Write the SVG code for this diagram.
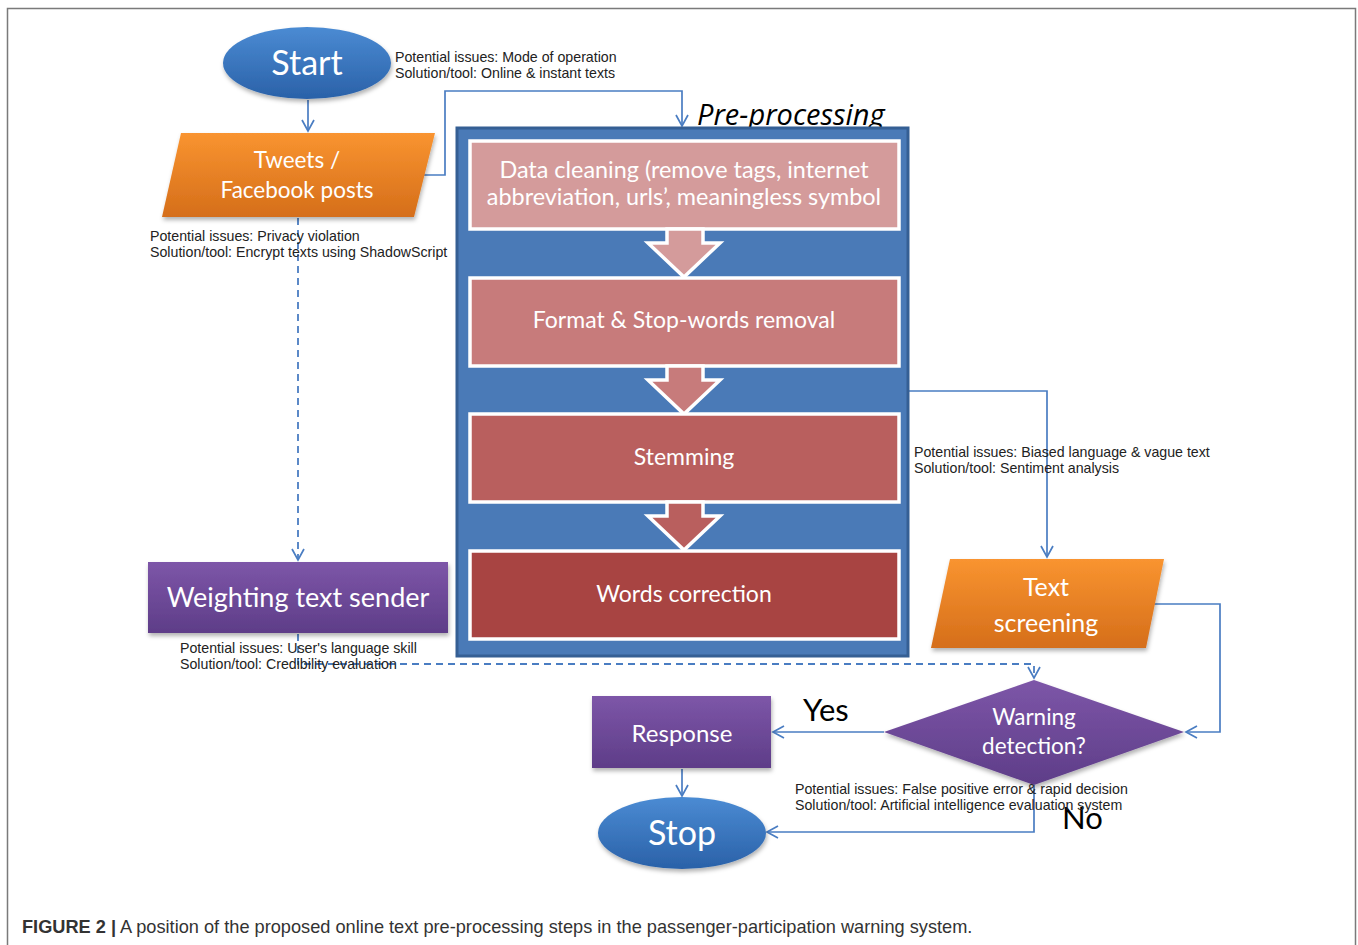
<svg xmlns="http://www.w3.org/2000/svg" width="1358" height="945" viewBox="0 0 1358 945">
<style>
.lbl{font-family:Lato,"Open Sans","DejaVu Sans",sans-serif;fill:#fff;text-anchor:middle}
.note{font-family:"Liberation Sans",Arial,sans-serif;font-size:14.2px;fill:#222}
.big{font-family:Lato,"Open Sans",sans-serif;font-size:31px;fill:#000}
.conn{fill:none;stroke:#4a7dc2;stroke-width:1.7}
.dash{fill:none;stroke:#4a7dc2;stroke-width:1.8;stroke-dasharray:7,5}
.inner{stroke:#fff;stroke-width:3.5}
</style>
<defs>
<marker id="arr" markerWidth="14" markerHeight="14" refX="12" refY="7" orient="auto" markerUnits="userSpaceOnUse">
<path d="M1,1 L12,7 L1,13" fill="none" stroke="#4a7dc2" stroke-width="1.7"/>
</marker>
<linearGradient id="gBlue" x1="0" y1="0" x2="0" y2="1"><stop offset="0" stop-color="#4b8bd3"/><stop offset="1" stop-color="#2a61a8"/></linearGradient>
<linearGradient id="gOrange" x1="0" y1="0" x2="0" y2="1"><stop offset="0" stop-color="#f99430"/><stop offset="1" stop-color="#d56e1a"/></linearGradient>
<linearGradient id="gPurple" x1="0" y1="0" x2="0" y2="1"><stop offset="0" stop-color="#7d56a8"/><stop offset="1" stop-color="#5e3d88"/></linearGradient>
<filter id="sh" x="-10%" y="-10%" width="130%" height="140%"><feDropShadow dx="1" dy="3" stdDeviation="2" flood-color="#000" flood-opacity="0.3"/></filter>
</defs>
<rect width="1358" height="945" fill="#fff"/>
<path d="M7.5,945 V8.5 H1355.5 V945" fill="none" stroke="#7a7a7a" stroke-width="1.5"/>

<g id="connectors">
<line class="conn" x1="308" y1="100" x2="308" y2="131" marker-end="url(#arr)"/>
<polyline class="conn" points="424,175 445,175 445,91 682,91 682,126" marker-end="url(#arr)"/>
<line class="dash" x1="298" y1="218" x2="298" y2="560" marker-end="url(#arr)"/>
<polyline class="dash" points="298,634 298,664 1034,664 1034,678" marker-end="url(#arr)"/>
<polyline class="conn" points="908,391 1047,391 1047,557" marker-end="url(#arr)"/>
<polyline class="conn" points="1152,604 1220,604 1220,732 1186,732" marker-end="url(#arr)"/>
<line class="conn" x1="884" y1="732" x2="773" y2="732" marker-end="url(#arr)"/>
<line class="conn" x1="682" y1="769" x2="682" y2="796" marker-end="url(#arr)"/>
<polyline class="conn" points="1034,785 1034,832 767,832" marker-end="url(#arr)"/>
</g>

<g id="start">
<ellipse cx="307" cy="63" rx="84" ry="36" fill="url(#gBlue)" filter="url(#sh)"/>
<text class="lbl" x="307" y="75" font-size="34">Start</text>
</g>
<text class="note" x="395" y="62">Potential issues: Mode of operation</text>
<text class="note" x="395" y="78">Solution/tool: Online &amp; instant texts</text>

<g id="tweets">
<polygon points="181,133 435,133 414,217 162,217" fill="url(#gOrange)" filter="url(#sh)"/>
<text class="lbl" x="297" y="168" font-size="22.5">Tweets /</text>
<text class="lbl" x="297" y="198" font-size="22.5">Facebook posts</text>
</g>
<text class="note" x="150" y="241">Potential issues: Privacy violation</text>
<text class="note" x="150" y="257">Solution/tool: Encrypt texts using ShadowScript</text>

<g id="preprocessing">
<text x="697" y="125" font-family="'Open Sans',Lato,sans-serif" font-style="italic" font-size="29" fill="#000">Pre-processing</text>
<rect x="457" y="128" width="451" height="528" fill="#4a7ab7" stroke="#355f94" stroke-width="3"/>
<rect class="inner" x="470" y="141" width="429" height="88" fill="#d49b9b"/>
<text class="lbl" x="684" y="178" font-size="23.4">Data cleaning (remove tags, internet</text>
<text class="lbl" x="684" y="205" font-size="23.4">abbreviation, urls’, meaningless symbol</text>
<polygon class="inner" points="667,229 703,229 703,243 720,243 684,277 648,243 667,243" fill="#d49b9b"/>
<rect class="inner" x="470" y="278" width="429" height="88" fill="#c77b7b"/>
<text class="lbl" x="684" y="328" font-size="23">Format &amp; Stop-words removal</text>
<polygon class="inner" points="667,366 703,366 703,380 720,380 684,414 648,380 667,380" fill="#c77b7b"/>
<rect class="inner" x="470" y="414" width="429" height="88" fill="#b95f5e"/>
<text class="lbl" x="684" y="465" font-size="23">Stemming</text>
<polygon class="inner" points="667,502 703,502 703,516 720,516 684,550 648,516 667,516" fill="#b95f5e"/>
<rect class="inner" x="470" y="551" width="429" height="88" fill="#a84442"/>
<text class="lbl" x="684" y="602" font-size="23">Words correction</text>
</g>
<text class="note" x="914" y="457">Potential issues: Biased language &amp; vague text</text>
<text class="note" x="914" y="473">Solution/tool: Sentiment analysis</text>

<g id="text-screening">
<polygon points="950,559 1164,559 1146,648 931,648" fill="url(#gOrange)" filter="url(#sh)"/>
<text class="lbl" x="1046" y="596" font-size="25">Text</text>
<text class="lbl" x="1046" y="632" font-size="25">screening</text>
</g>

<g id="weighting">
<rect x="148" y="562" width="300" height="71" fill="url(#gPurple)" filter="url(#sh)"/>
<text class="lbl" x="298" y="607" font-size="27">Weighting text sender</text>
</g>
<text class="note" x="180" y="653">Potential issues: User's language skill</text>
<text class="note" x="180" y="669">Solution/tool: Credibility evaluation</text>

<g id="warning">
<polygon points="1034,680 1184,732 1034,785 884,732" fill="url(#gPurple)" filter="url(#sh)"/>
<text class="lbl" x="1034" y="725" font-size="22.5">Warning</text>
<text class="lbl" x="1034" y="754" font-size="22.5">detection?</text>
</g>
<text class="big" x="803" y="721">Yes</text>
<text class="big" x="1062" y="829">No</text>

<g id="response">
<rect x="592" y="696" width="179" height="72" fill="url(#gPurple)" filter="url(#sh)"/>
<text class="lbl" x="682" y="742" font-size="24">Response</text>
</g>
<text class="note" x="795" y="794">Potential issues: False positive error &amp; rapid decision</text>
<text class="note" x="795" y="810">Solution/tool: Artificial intelligence evaluation system</text>

<g id="stop">
<ellipse cx="682" cy="833" rx="84" ry="36" fill="url(#gBlue)" filter="url(#sh)"/>
<text class="lbl" x="682" y="845" font-size="34">Stop</text>
</g>

<text x="22" y="933" font-family="'Liberation Sans',Arial,sans-serif" font-size="18.2" fill="#333"><tspan font-weight="bold">FIGURE 2 |</tspan> A position of the proposed online text pre-processing steps in the passenger-participation warning system.</text>
</svg>
